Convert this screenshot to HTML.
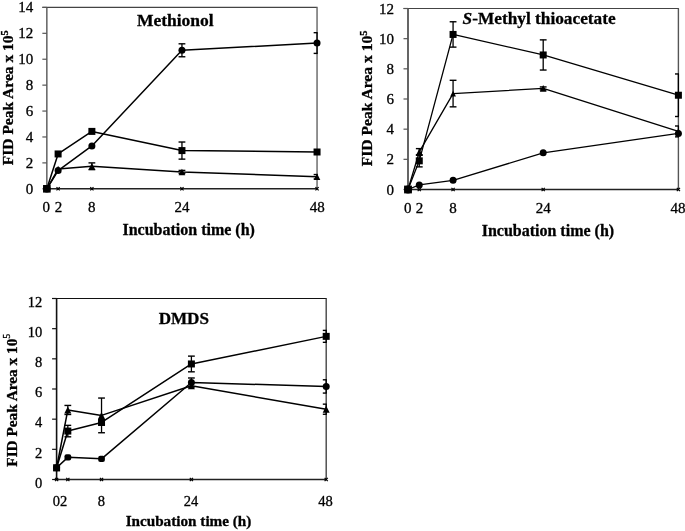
<!DOCTYPE html>
<html><head><meta charset="utf-8"><style>
html,body{margin:0;padding:0;background:#fff;}
body{width:685px;height:531px;overflow:hidden;}
svg{display:block;font-family:"Liberation Serif", serif;}
text{fill:#000;stroke:#000;stroke-width:0.3px;}
svg{will-change:transform;}
</style></head><body>
<svg width="685" height="531" viewBox="0 0 685 531">
<rect width="685" height="531" fill="#fff"/>
<line x1="42.35" y1="7.4" x2="317.55" y2="7.4" stroke="#444" stroke-width="1.2"/>
<line x1="317.05" y1="7.4" x2="317.05" y2="188.8" stroke="#777" stroke-width="1.6"/>
<line x1="46.85" y1="7.4" x2="46.85" y2="189.3" stroke="#555" stroke-width="1.4"/>
<line x1="42.35" y1="188.8" x2="46.85" y2="188.8" stroke="#555" stroke-width="1.2"/>
<text x="33.2" y="193.8" text-anchor="end" font-size="15">0</text>
<line x1="42.35" y1="162.89" x2="46.85" y2="162.89" stroke="#555" stroke-width="1.2"/>
<text x="33.2" y="167.89" text-anchor="end" font-size="15">2</text>
<line x1="42.35" y1="136.97" x2="46.85" y2="136.97" stroke="#555" stroke-width="1.2"/>
<text x="33.2" y="141.97" text-anchor="end" font-size="15">4</text>
<line x1="42.35" y1="111.06" x2="46.85" y2="111.06" stroke="#555" stroke-width="1.2"/>
<text x="33.2" y="116.06" text-anchor="end" font-size="15">6</text>
<line x1="42.35" y1="85.14" x2="46.85" y2="85.14" stroke="#555" stroke-width="1.2"/>
<text x="33.2" y="90.14" text-anchor="end" font-size="15">8</text>
<line x1="42.35" y1="59.23" x2="46.85" y2="59.23" stroke="#555" stroke-width="1.2"/>
<text x="33.2" y="64.23" text-anchor="end" font-size="15">10</text>
<line x1="42.35" y1="33.31" x2="46.85" y2="33.31" stroke="#555" stroke-width="1.2"/>
<text x="33.2" y="38.31" text-anchor="end" font-size="15">12</text>
<line x1="42.35" y1="7.4" x2="46.85" y2="7.4" stroke="#555" stroke-width="1.2"/>
<text x="33.2" y="12.4" text-anchor="end" font-size="15">14</text>
<text x="46.2" y="212" text-anchor="middle" font-size="15">0</text>
<text x="58.4" y="212" text-anchor="middle" font-size="15">2</text>
<text x="91.8" y="212" text-anchor="middle" font-size="15">8</text>
<text x="182.1" y="212" text-anchor="middle" font-size="15">24</text>
<text x="317.3" y="212" text-anchor="middle" font-size="15">48</text>
<polyline points="46.85,188.8 58.11,188.8 91.88,188.8 181.95,188.8 317.05,188.8" fill="none" stroke="#222" stroke-width="1.6"/>
<polyline points="46.85,188.8 58.11,170.53 91.88,145.91 181.95,50.29 317.05,43.03" fill="none" stroke="#000" stroke-width="1.5" stroke-linejoin="round"/>
<polyline points="46.85,188.8 58.11,153.95 91.88,131.4 181.95,150.58 317.05,152" fill="none" stroke="#000" stroke-width="1.5" stroke-linejoin="round"/>
<polyline points="46.85,188.8 58.11,169.11 91.88,166.25 181.95,171.96 317.05,176.75" fill="none" stroke="#000" stroke-width="1.5" stroke-linejoin="round"/>
<line x1="181.95" y1="43.81" x2="181.95" y2="56.77" stroke="#000" stroke-width="1.3"/>
<line x1="178.55" y1="43.81" x2="185.35" y2="43.81" stroke="#000" stroke-width="1.4"/>
<line x1="178.55" y1="56.77" x2="185.35" y2="56.77" stroke="#000" stroke-width="1.4"/>
<line x1="317.05" y1="32.67" x2="317.05" y2="53.4" stroke="#000" stroke-width="1.3"/>
<line x1="313.65" y1="32.67" x2="317.65" y2="32.67" stroke="#000" stroke-width="1.4"/>
<line x1="313.65" y1="53.4" x2="317.65" y2="53.4" stroke="#000" stroke-width="1.4"/>
<line x1="181.95" y1="142.02" x2="181.95" y2="159.13" stroke="#000" stroke-width="1.3"/>
<line x1="178.55" y1="142.02" x2="185.35" y2="142.02" stroke="#000" stroke-width="1.4"/>
<line x1="178.55" y1="159.13" x2="185.35" y2="159.13" stroke="#000" stroke-width="1.4"/>
<line x1="91.88" y1="162.89" x2="91.88" y2="169.62" stroke="#000" stroke-width="1.3"/>
<line x1="88.48" y1="162.89" x2="95.28" y2="162.89" stroke="#000" stroke-width="1.4"/>
<line x1="88.48" y1="169.62" x2="95.28" y2="169.62" stroke="#000" stroke-width="1.4"/>
<line x1="181.95" y1="170.4" x2="181.95" y2="173.51" stroke="#000" stroke-width="1.3"/>
<line x1="178.55" y1="170.4" x2="185.35" y2="170.4" stroke="#000" stroke-width="1.4"/>
<line x1="178.55" y1="173.51" x2="185.35" y2="173.51" stroke="#000" stroke-width="1.4"/>
<line x1="317.05" y1="174.55" x2="317.05" y2="178.95" stroke="#000" stroke-width="1.3"/>
<line x1="313.65" y1="174.55" x2="317.65" y2="174.55" stroke="#000" stroke-width="1.4"/>
<line x1="313.65" y1="178.95" x2="317.65" y2="178.95" stroke="#000" stroke-width="1.4"/>
<path d="M45.25 187.2L48.45 190.4M45.25 190.4L48.45 187.2" stroke="#000" stroke-width="1.2"/>
<path d="M56.51 187.2L59.71 190.4M56.51 190.4L59.71 187.2" stroke="#000" stroke-width="1.2"/>
<path d="M90.28 187.2L93.48 190.4M90.28 190.4L93.48 187.2" stroke="#000" stroke-width="1.2"/>
<path d="M180.35 187.2L183.55 190.4M180.35 190.4L183.55 187.2" stroke="#000" stroke-width="1.2"/>
<path d="M315.45 187.2L318.65 190.4M315.45 190.4L318.65 187.2" stroke="#000" stroke-width="1.2"/>
<circle cx="46.85" cy="188.8" r="3.8" fill="#000"/>
<circle cx="58.11" cy="170.53" r="3.5" fill="#000"/>
<circle cx="91.88" cy="145.91" r="3.5" fill="#000"/>
<circle cx="181.95" cy="50.29" r="3.5" fill="#000"/>
<circle cx="317.05" cy="43.03" r="3.5" fill="#000"/>
<rect x="43.05" y="185" width="7.6" height="7.6" fill="#000"/>
<rect x="54.61" y="150.45" width="7" height="7" fill="#000"/>
<rect x="88.38" y="127.9" width="7" height="7" fill="#000"/>
<rect x="178.45" y="147.08" width="7" height="7" fill="#000"/>
<rect x="313.55" y="148.5" width="7" height="7" fill="#000"/>
<path d="M46.85 185.5L50.15 192.1L43.55 192.1Z" fill="#000"/>
<path d="M58.11 165.81L61.41 172.41L54.81 172.41Z" fill="#000"/>
<path d="M91.88 162.95L95.18 169.55L88.58 169.55Z" fill="#000"/>
<path d="M181.95 168.66L185.25 175.26L178.65 175.26Z" fill="#000"/>
<path d="M317.05 173.45L320.35 180.05L313.75 180.05Z" fill="#000"/>
<text x="175.3" y="25.9" font-size="17.5" font-weight="bold" text-anchor="middle">Methionol</text>
<text x="188.7" y="235.1" font-size="16" font-weight="bold" text-anchor="middle">Incubation time (h)</text>
<text transform="translate(12.9 97.7) rotate(-90)" font-size="15.5" font-weight="bold" text-anchor="middle">FID Peak Area x 10<tspan font-size="10.5" dy="-4.7" font-weight="bold">5</tspan></text>
<line x1="403.5" y1="8.5" x2="678.9" y2="8.5" stroke="#444" stroke-width="1.2"/>
<line x1="678.4" y1="8.5" x2="678.4" y2="189.5" stroke="#555" stroke-width="1.4"/>
<line x1="408" y1="8.5" x2="408" y2="190" stroke="#555" stroke-width="1.8"/>
<line x1="403.5" y1="189.5" x2="408" y2="189.5" stroke="#555" stroke-width="1.2"/>
<text x="394" y="194.5" text-anchor="end" font-size="15">0</text>
<line x1="403.5" y1="159.33" x2="408" y2="159.33" stroke="#555" stroke-width="1.2"/>
<text x="394" y="164.33" text-anchor="end" font-size="15">2</text>
<line x1="403.5" y1="129.17" x2="408" y2="129.17" stroke="#555" stroke-width="1.2"/>
<text x="394" y="134.17" text-anchor="end" font-size="15">4</text>
<line x1="403.5" y1="99" x2="408" y2="99" stroke="#555" stroke-width="1.2"/>
<text x="394" y="104" text-anchor="end" font-size="15">6</text>
<line x1="403.5" y1="68.83" x2="408" y2="68.83" stroke="#555" stroke-width="1.2"/>
<text x="394" y="73.83" text-anchor="end" font-size="15">8</text>
<line x1="403.5" y1="38.67" x2="408" y2="38.67" stroke="#555" stroke-width="1.2"/>
<text x="394" y="43.67" text-anchor="end" font-size="15">10</text>
<line x1="403.5" y1="8.5" x2="408" y2="8.5" stroke="#555" stroke-width="1.2"/>
<text x="394" y="13.5" text-anchor="end" font-size="15">12</text>
<text x="407.7" y="213" text-anchor="middle" font-size="15">0</text>
<text x="419.4" y="213" text-anchor="middle" font-size="15">2</text>
<text x="453" y="213" text-anchor="middle" font-size="15">8</text>
<text x="543.2" y="213" text-anchor="middle" font-size="15">24</text>
<text x="678" y="213" text-anchor="middle" font-size="15">48</text>
<polyline points="408,189.5 419.27,189.5 453.07,189.5 543.2,189.5 678.4,189.5" fill="none" stroke="#222" stroke-width="1.6"/>
<polyline points="408,189.5 419.27,160.84 453.07,34.44 543.2,54.96 678.4,95.23" fill="none" stroke="#000" stroke-width="1.3" stroke-linejoin="round"/>
<polyline points="408,189.5 419.27,151.94 453.07,93.57 543.2,88.44 678.4,131.43" fill="none" stroke="#000" stroke-width="1.3" stroke-linejoin="round"/>
<polyline points="408,189.5 419.27,184.97 453.07,180.3 543.2,152.85 678.4,133.39" fill="none" stroke="#000" stroke-width="1.3" stroke-linejoin="round"/>
<line x1="419.27" y1="154.81" x2="419.27" y2="166.88" stroke="#000" stroke-width="1.3"/>
<line x1="415.87" y1="154.81" x2="422.67" y2="154.81" stroke="#000" stroke-width="1.4"/>
<line x1="415.87" y1="166.88" x2="422.67" y2="166.88" stroke="#000" stroke-width="1.4"/>
<line x1="453.07" y1="21.77" x2="453.07" y2="47.11" stroke="#000" stroke-width="1.3"/>
<line x1="449.67" y1="21.77" x2="456.47" y2="21.77" stroke="#000" stroke-width="1.4"/>
<line x1="449.67" y1="47.11" x2="456.47" y2="47.11" stroke="#000" stroke-width="1.4"/>
<line x1="543.2" y1="39.87" x2="543.2" y2="70.04" stroke="#000" stroke-width="1.3"/>
<line x1="539.8" y1="39.87" x2="546.6" y2="39.87" stroke="#000" stroke-width="1.4"/>
<line x1="539.8" y1="70.04" x2="546.6" y2="70.04" stroke="#000" stroke-width="1.4"/>
<line x1="678.4" y1="73.96" x2="678.4" y2="116.5" stroke="#000" stroke-width="1.3"/>
<line x1="675" y1="73.96" x2="679" y2="73.96" stroke="#000" stroke-width="1.4"/>
<line x1="675" y1="116.5" x2="679" y2="116.5" stroke="#000" stroke-width="1.4"/>
<line x1="419.27" y1="148.62" x2="419.27" y2="155.26" stroke="#000" stroke-width="1.3"/>
<line x1="415.87" y1="148.62" x2="422.67" y2="148.62" stroke="#000" stroke-width="1.4"/>
<line x1="415.87" y1="155.26" x2="422.67" y2="155.26" stroke="#000" stroke-width="1.4"/>
<line x1="453.07" y1="80.3" x2="453.07" y2="106.84" stroke="#000" stroke-width="1.3"/>
<line x1="449.67" y1="80.3" x2="456.47" y2="80.3" stroke="#000" stroke-width="1.4"/>
<line x1="449.67" y1="106.84" x2="456.47" y2="106.84" stroke="#000" stroke-width="1.4"/>
<line x1="543.2" y1="86.93" x2="543.2" y2="89.95" stroke="#000" stroke-width="1.3"/>
<line x1="539.8" y1="86.93" x2="546.6" y2="86.93" stroke="#000" stroke-width="1.4"/>
<line x1="539.8" y1="89.95" x2="546.6" y2="89.95" stroke="#000" stroke-width="1.4"/>
<line x1="678.4" y1="126" x2="678.4" y2="136.86" stroke="#000" stroke-width="1.3"/>
<line x1="675" y1="126" x2="679" y2="126" stroke="#000" stroke-width="1.4"/>
<line x1="675" y1="136.86" x2="679" y2="136.86" stroke="#000" stroke-width="1.4"/>
<path d="M406.4 187.9L409.6 191.1M406.4 191.1L409.6 187.9" stroke="#000" stroke-width="1.2"/>
<path d="M417.67 187.9L420.87 191.1M417.67 191.1L420.87 187.9" stroke="#000" stroke-width="1.2"/>
<path d="M451.47 187.9L454.67 191.1M451.47 191.1L454.67 187.9" stroke="#000" stroke-width="1.2"/>
<path d="M541.6 187.9L544.8 191.1M541.6 191.1L544.8 187.9" stroke="#000" stroke-width="1.2"/>
<path d="M676.8 187.9L680 191.1M676.8 191.1L680 187.9" stroke="#000" stroke-width="1.2"/>
<rect x="404.1" y="185.6" width="7.8" height="7.8" fill="#000"/>
<rect x="415.77" y="157.34" width="7" height="7" fill="#000"/>
<rect x="449.57" y="30.94" width="7" height="7" fill="#000"/>
<rect x="539.7" y="51.46" width="7" height="7" fill="#000"/>
<rect x="674.9" y="91.73" width="7" height="7" fill="#000"/>
<path d="M408 186.4L411.1 192.6L404.9 192.6Z" fill="#000"/>
<path d="M419.27 148.64L422.57 155.24L415.97 155.24Z" fill="#000"/>
<path d="M453.07 90.67L455.97 96.47L450.17 96.47Z" fill="#000"/>
<path d="M543.2 85.04L546.6 91.84L539.8 91.84Z" fill="#000"/>
<path d="M678.4 128.33L681.5 134.53L675.3 134.53Z" fill="#000"/>
<circle cx="408" cy="189.5" r="3.9" fill="#000"/>
<circle cx="419.27" cy="184.97" r="3.5" fill="#000"/>
<circle cx="453.07" cy="180.3" r="3.5" fill="#000"/>
<circle cx="543.2" cy="152.85" r="3.5" fill="#000"/>
<circle cx="678.4" cy="133.39" r="3.5" fill="#000"/>
<text x="539.1" y="23.8" font-size="17.3" font-weight="bold" text-anchor="middle"><tspan font-style="italic">S</tspan>-Methyl thioacetate</text>
<text x="547.9" y="235.5" font-size="16" font-weight="bold" text-anchor="middle">Incubation time (h)</text>
<text transform="translate(372 98.4) rotate(-90)" font-size="15.6" font-weight="bold" text-anchor="middle">FID Peak Area x 10<tspan font-size="10.5" dy="-4.7" font-weight="bold">5</tspan></text>
<line x1="52.1" y1="298.5" x2="326.7" y2="298.5" stroke="#111" stroke-width="1.2"/>
<line x1="326.2" y1="298.5" x2="326.2" y2="479.5" stroke="#444" stroke-width="1.4"/>
<line x1="56.6" y1="298.5" x2="56.6" y2="480" stroke="#111" stroke-width="1.6"/>
<line x1="52.1" y1="479.5" x2="56.6" y2="479.5" stroke="#111" stroke-width="1.2"/>
<text x="42.3" y="487.8" text-anchor="end" font-size="14.5">0</text>
<line x1="52.1" y1="449.33" x2="56.6" y2="449.33" stroke="#111" stroke-width="1.2"/>
<text x="42.3" y="457.63" text-anchor="end" font-size="14.5">2</text>
<line x1="52.1" y1="419.17" x2="56.6" y2="419.17" stroke="#111" stroke-width="1.2"/>
<text x="42.3" y="427.47" text-anchor="end" font-size="14.5">4</text>
<line x1="52.1" y1="389" x2="56.6" y2="389" stroke="#111" stroke-width="1.2"/>
<text x="42.3" y="397.3" text-anchor="end" font-size="14.5">6</text>
<line x1="52.1" y1="358.83" x2="56.6" y2="358.83" stroke="#111" stroke-width="1.2"/>
<text x="42.3" y="367.13" text-anchor="end" font-size="14.5">8</text>
<line x1="52.1" y1="328.67" x2="56.6" y2="328.67" stroke="#111" stroke-width="1.2"/>
<text x="42.3" y="336.97" text-anchor="end" font-size="14.5">10</text>
<line x1="52.1" y1="298.5" x2="56.6" y2="298.5" stroke="#111" stroke-width="1.2"/>
<text x="42.3" y="306.8" text-anchor="end" font-size="14.5">12</text>
<text x="60" y="506" text-anchor="middle" font-size="14.5">02</text>
<text x="101.3" y="506" text-anchor="middle" font-size="14.5">8</text>
<text x="191.1" y="506" text-anchor="middle" font-size="14.5">24</text>
<text x="325.6" y="506" text-anchor="middle" font-size="14.5">48</text>
<polyline points="56.6,479.5 67.83,479.5 101.53,479.5 191.4,479.5 326.2,479.5" fill="none" stroke="#222" stroke-width="1.6"/>
<polyline points="56.6,467.74 67.83,431.08 101.53,422.49 191.4,363.96 326.2,336.36" fill="none" stroke="#000" stroke-width="1.5" stroke-linejoin="round"/>
<polyline points="56.6,467.74 67.83,409.97 101.53,415.4 191.4,385.83 326.2,409.21" fill="none" stroke="#000" stroke-width="1.5" stroke-linejoin="round"/>
<polyline points="56.6,467.74 67.83,457.33 101.53,458.84 191.4,382.51 326.2,386.44" fill="none" stroke="#000" stroke-width="1.5" stroke-linejoin="round"/>
<line x1="67.83" y1="425.35" x2="67.83" y2="436.81" stroke="#000" stroke-width="1.3"/>
<line x1="64.43" y1="425.35" x2="71.23" y2="425.35" stroke="#000" stroke-width="1.4"/>
<line x1="64.43" y1="436.81" x2="71.23" y2="436.81" stroke="#000" stroke-width="1.4"/>
<line x1="191.4" y1="356.12" x2="191.4" y2="371.81" stroke="#000" stroke-width="1.3"/>
<line x1="188" y1="356.12" x2="194.8" y2="356.12" stroke="#000" stroke-width="1.4"/>
<line x1="188" y1="371.81" x2="194.8" y2="371.81" stroke="#000" stroke-width="1.4"/>
<line x1="326.2" y1="330.4" x2="326.2" y2="342.32" stroke="#000" stroke-width="1.3"/>
<line x1="322.8" y1="330.4" x2="326.8" y2="330.4" stroke="#000" stroke-width="1.4"/>
<line x1="322.8" y1="342.32" x2="326.8" y2="342.32" stroke="#000" stroke-width="1.4"/>
<line x1="67.83" y1="405.44" x2="67.83" y2="414.49" stroke="#000" stroke-width="1.3"/>
<line x1="64.43" y1="405.44" x2="71.23" y2="405.44" stroke="#000" stroke-width="1.4"/>
<line x1="64.43" y1="414.49" x2="71.23" y2="414.49" stroke="#000" stroke-width="1.4"/>
<line x1="101.53" y1="398.05" x2="101.53" y2="432.74" stroke="#000" stroke-width="1.3"/>
<line x1="98.13" y1="398.05" x2="104.93" y2="398.05" stroke="#000" stroke-width="1.4"/>
<line x1="98.13" y1="432.74" x2="104.93" y2="432.74" stroke="#000" stroke-width="1.4"/>
<line x1="326.2" y1="404.16" x2="326.2" y2="414.26" stroke="#000" stroke-width="1.3"/>
<line x1="322.8" y1="404.16" x2="326.8" y2="404.16" stroke="#000" stroke-width="1.4"/>
<line x1="322.8" y1="414.26" x2="326.8" y2="414.26" stroke="#000" stroke-width="1.4"/>
<line x1="191.4" y1="377.99" x2="191.4" y2="387.04" stroke="#000" stroke-width="1.3"/>
<line x1="188" y1="377.99" x2="194.8" y2="377.99" stroke="#000" stroke-width="1.4"/>
<line x1="188" y1="387.04" x2="194.8" y2="387.04" stroke="#000" stroke-width="1.4"/>
<line x1="326.2" y1="379.8" x2="326.2" y2="393.07" stroke="#000" stroke-width="1.3"/>
<line x1="322.8" y1="379.8" x2="326.8" y2="379.8" stroke="#000" stroke-width="1.4"/>
<line x1="322.8" y1="393.07" x2="326.8" y2="393.07" stroke="#000" stroke-width="1.4"/>
<path d="M55 477.9L58.2 481.1M55 481.1L58.2 477.9" stroke="#000" stroke-width="1.2"/>
<path d="M66.23 477.9L69.43 481.1M66.23 481.1L69.43 477.9" stroke="#000" stroke-width="1.2"/>
<path d="M99.93 477.9L103.13 481.1M99.93 481.1L103.13 477.9" stroke="#000" stroke-width="1.2"/>
<path d="M189.8 477.9L193 481.1M189.8 481.1L193 477.9" stroke="#000" stroke-width="1.2"/>
<path d="M324.6 477.9L327.8 481.1M324.6 481.1L327.8 477.9" stroke="#000" stroke-width="1.2"/>
<rect x="53.1" y="464.24" width="7" height="7" fill="#000"/>
<rect x="64.33" y="427.58" width="7" height="7" fill="#000"/>
<rect x="98.03" y="418.99" width="7" height="7" fill="#000"/>
<rect x="187.9" y="360.46" width="7" height="7" fill="#000"/>
<rect x="322.7" y="332.86" width="7" height="7" fill="#000"/>
<path d="M56.6 464.24L60.1 471.24L53.1 471.24Z" fill="#000"/>
<path d="M67.83 406.47L71.33 413.47L64.33 413.47Z" fill="#000"/>
<path d="M101.53 411.9L105.03 418.9L98.03 418.9Z" fill="#000"/>
<path d="M191.4 382.33L194.9 389.33L187.9 389.33Z" fill="#000"/>
<path d="M326.2 405.71L329.7 412.71L322.7 412.71Z" fill="#000"/>
<circle cx="56.6" cy="467.74" r="3.5" fill="#000"/>
<rect x="64.48" y="454.18" width="6.7" height="6.3" rx="2" fill="#000"/>
<rect x="98.18" y="455.69" width="6.7" height="6.3" rx="2" fill="#000"/>
<circle cx="191.4" cy="382.51" r="3.5" fill="#000"/>
<circle cx="326.2" cy="386.44" r="3.5" fill="#000"/>
<text x="183.8" y="323.9" font-size="17.1" font-weight="bold" text-anchor="middle">DMDS</text>
<text x="188.5" y="525.9" font-size="15.2" font-weight="bold" text-anchor="middle">Incubation time (h)</text>
<text transform="translate(17.4 400.2) rotate(-90)" font-size="15.3" font-weight="bold" text-anchor="middle">FID Peak Area x 10<tspan font-size="10" dy="-7.3" font-weight="normal">5</tspan></text>
</svg>
</body></html>
